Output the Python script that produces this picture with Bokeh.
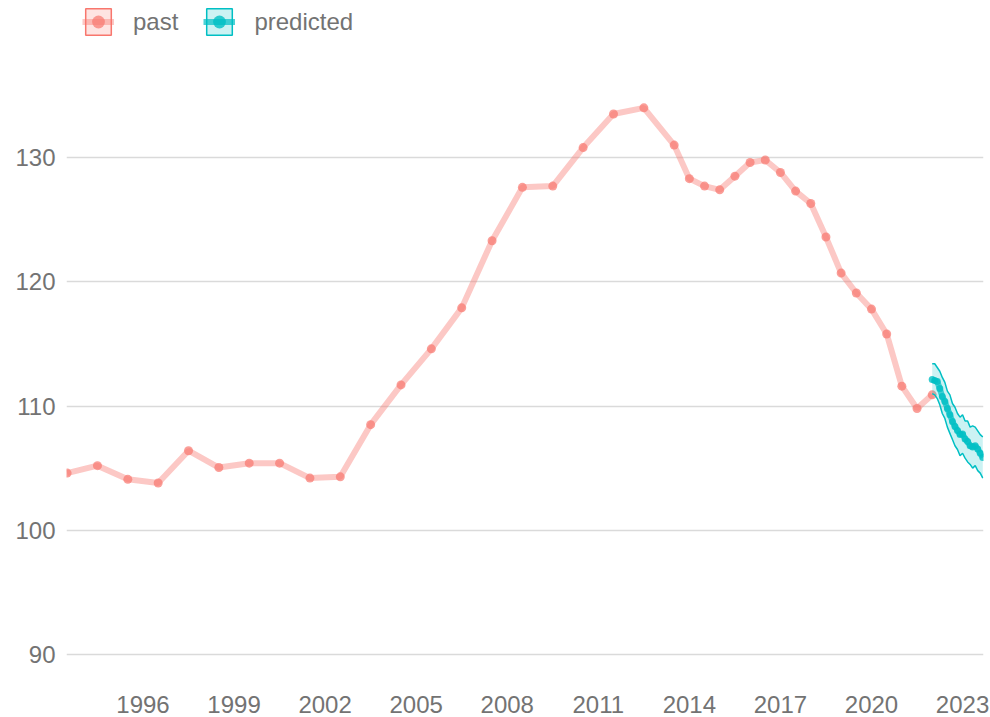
from bokeh.plotting import figure
from bokeh.models import (ColumnDataSource, Legend, LegendItem, FixedTicker, Range1d)
from bokeh.embed import file_html
from bokeh.resources import INLINE

# ---- data ----
past_x = [1993.5, 1994.5, 1995.5, 1996.5, 1997.5, 1998.5, 1999.5, 2000.5, 2001.5, 2002.5,
          2003.5, 2004.5, 2005.5, 2006.5, 2007.5, 2008.5, 2009.5, 2010.5, 2011.5, 2012.5,
          2013.5, 2014.0, 2014.5, 2015.0, 2015.5, 2016.0, 2016.5, 2017.0, 2017.5, 2018.0,
          2018.5, 2019.0, 2019.5, 2020.0, 2020.5, 2021.0, 2021.5, 2022.0]
past_y = [104.6, 105.2, 104.1, 103.8, 106.4, 105.05, 105.4, 105.4, 104.2, 104.3,
          108.5, 111.7, 114.6, 117.9, 123.3, 127.6, 127.7, 130.8, 133.5, 134.0,
          131.0, 128.3, 127.7, 127.4, 128.5, 129.6, 129.8, 128.8, 127.3, 126.3,
          123.6, 120.7, 119.1, 117.8, 115.8, 111.6, 109.8, 110.9]

pred_x = [2022.0, 2022.083, 2022.167, 2022.25, 2022.333, 2022.417, 2022.5, 2022.583,
          2022.667, 2022.75, 2022.833, 2022.917, 2023.0, 2023.083, 2023.167, 2023.25,
          2023.333, 2023.417, 2023.5, 2023.583, 2023.667]
pred_y = [112.13, 112.05, 111.97, 111.4, 110.76, 110.36, 109.8, 109.3, 108.75, 108.35,
          108.03, 107.7, 107.75, 107.35, 107.14, 106.8, 106.7, 106.8, 106.54, 106.2, 105.85]
pred_hi = [113.4, 113.4, 113.1, 112.8, 112.3, 111.9, 111.2, 110.9, 110.2, 109.9,
           109.4, 109.1, 109.3, 108.8, 108.8, 108.3, 108.4, 108.3, 108.0, 107.7, 107.5]
pred_lo = [111.0, 110.9, 110.6, 110.1, 109.4, 109.0, 108.3, 107.8, 107.3, 106.8,
           106.5, 106.0, 106.2, 105.8, 105.5, 105.3, 105.0, 105.2, 104.8, 104.6, 104.2]

x_ticks = [1996, 1999, 2002, 2005, 2008, 2011, 2014, 2017, 2020, 2023]
y_ticks = [90, 100, 110, 120, 130]

PAST = "#F8766D"
PRED = "#00BFC4"
FONT = "Liberation Sans"
TXT = "#737373"

past_src = ColumnDataSource(dict(x=past_x, y=past_y))
pred_src = ColumnDataSource(dict(x=pred_x, y=pred_y, lo=pred_lo, hi=pred_hi))

p = figure(width=990, height=717,
           x_range=Range1d(1993.48, 2023.69), y_range=Range1d(88.39, 142.64),
           output_backend="svg", toolbar_location=None,
           min_border_left=66, min_border_right=7, min_border_top=0, min_border_bottom=43)
p.outline_line_color = None
p.background_fill_color = "white"
p.border_fill_color = "white"

# axes
for ax in (p.xaxis[0], p.yaxis[0]):
    ax.axis_line_color = None
    ax.major_tick_line_color = None
    ax.minor_tick_line_color = None
    ax.major_label_text_font = FONT
    ax.major_label_text_font_size = "24px"
    ax.major_label_text_color = TXT
p.xaxis.ticker = FixedTicker(ticks=x_ticks)
p.yaxis.ticker = FixedTicker(ticks=y_ticks)
p.xaxis.major_label_standoff = 15
p.yaxis.major_label_standoff = 5
p.xgrid.visible = False
p.ygrid.grid_line_color = "#DADADA"
p.ygrid.grid_line_width = 1.3

# legend key boxes: zero-size quads (invisible in the plot, drawn as boxes in the legend)
past_key = p.quad(left="x", right="x", bottom="y", top="y", source=past_src,
                  fill_color=PAST, fill_alpha=0.2, line_color=PAST, line_width=1.5)
pred_key = p.quad(left="x", right="x", bottom="y", top="y", source=pred_src,
                  fill_color=PRED, fill_alpha=0.2, line_color=PRED, line_width=1.5)

# past
past_line = p.line("x", "y", source=past_src, line_color=PAST, line_alpha=0.4, line_width=6)
past_pts = p.scatter("x", "y", source=past_src, size=9, fill_color=PAST, fill_alpha=0.7,
                     line_color=None)

# predicted
p.varea(x="x", y1="lo", y2="hi", source=pred_src, fill_color=PRED, fill_alpha=0.2)
p.line("x", "hi", source=pred_src, line_color=PRED, line_width=1.5)
p.line("x", "lo", source=pred_src, line_color=PRED, line_width=1.5)
pred_line = p.line("x", "y", source=pred_src, line_color=PRED, line_alpha=0.7, line_width=6)
pred_pts = p.scatter("x", "y", source=pred_src, size=7, fill_color=PRED, fill_alpha=0.8,
                     line_color=None)

legend = Legend(items=[
    LegendItem(label="past", renderers=[past_key, past_line, past_pts]),
    LegendItem(label="predicted", renderers=[pred_key, pred_line, pred_pts]),
], orientation="horizontal", location=(16, 636))
legend.glyph_width = 32
legend.glyph_height = 33
legend.label_standoff = 19
legend.spacing = 25
legend.padding = 0
legend.margin = 0
legend.background_fill_alpha = 0
legend.border_line_alpha = 0
legend.label_text_font = FONT
legend.label_text_font_size = "24px"
legend.label_text_color = TXT
p.add_layout(legend)

open("out.html", "w").write(file_html(p, INLINE))
